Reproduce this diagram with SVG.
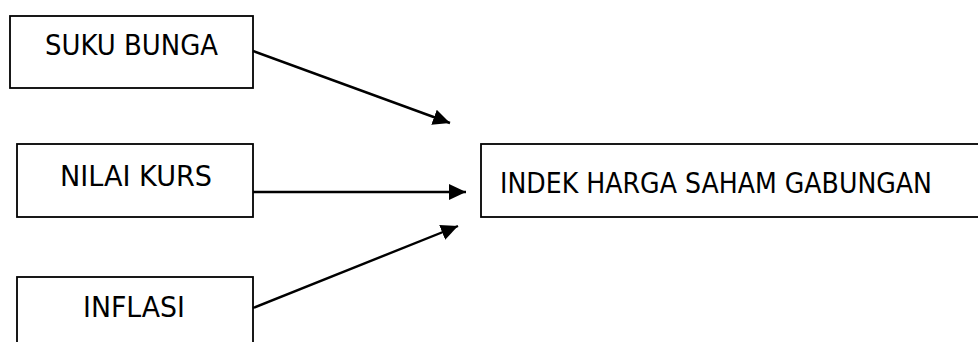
<svg xmlns="http://www.w3.org/2000/svg" width="978" height="342" viewBox="0 0 978 342">
<defs>
<marker id="ah" markerUnits="userSpaceOnUse" markerWidth="18" markerHeight="18" refX="17" refY="9" orient="auto">
<path d="M0,1 L17,9 L0,17 Z" fill="#000"/>
</marker>
<style>
.box{fill:#fff;stroke:#000;stroke-width:1.8}
.lbl{font-family:"DejaVu Sans",Verdana,sans-serif;font-size:27.5px;fill:#000}
.edge{stroke:#000;stroke-width:2.4;fill:none;marker-end:url(#ah)}
</style>
</defs>
<rect width="978" height="342" fill="#fff"/>
<g id="n-suku-bunga">
<rect class="box" x="10" y="16" width="243" height="72"/>
<text class="lbl" x="45" y="55" textLength="173" lengthAdjust="spacingAndGlyphs">SUKU BUNGA</text>
</g>
<g id="n-nilai-kurs">
<rect class="box" x="17" y="144" width="236" height="73"/>
<text class="lbl" x="60" y="186" textLength="152" lengthAdjust="spacingAndGlyphs">NILAI KURS</text>
</g>
<g id="n-inflasi">
<rect class="box" x="17" y="277" width="236" height="80"/>
<text class="lbl" x="83" y="317" textLength="102" lengthAdjust="spacingAndGlyphs">INFLASI</text>
</g>
<g id="n-ihsg">
<rect class="box" x="481" y="144" width="510" height="73"/>
<text class="lbl" x="500" y="193" textLength="432" lengthAdjust="spacingAndGlyphs">INDEK HARGA SAHAM GABUNGAN</text>
</g>
<g id="connectors">
<line class="edge" x1="253" y1="51" x2="450" y2="123"/>
<line class="edge" x1="253" y1="192" x2="466" y2="192"/>
<line class="edge" x1="253" y1="308" x2="458" y2="226"/>
</g>
</svg>
